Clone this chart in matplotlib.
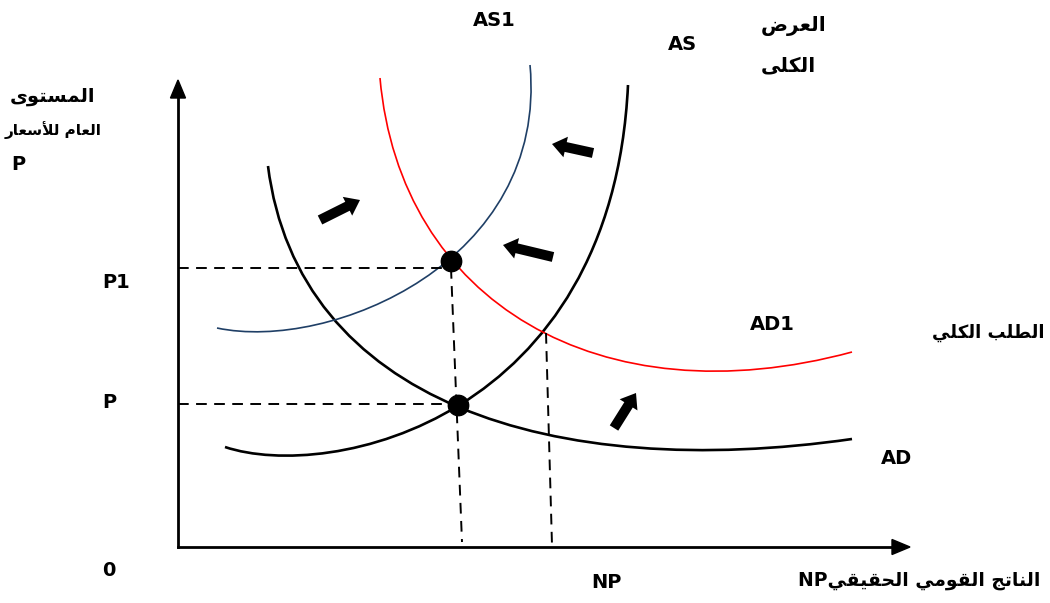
import matplotlib
matplotlib.use("Agg")
import matplotlib.pyplot as plt
from matplotlib.path import Path
from matplotlib.patches import PathPatch, FancyArrow

# ---------------- data (positions on the drawing canvas, px units) ----------------
axis_origin = (178, 547)
axis_y_top = 80
axis_x_right = 910

# cubic Bezier control points of the four curves
as_curve = [(225, 447), (330, 482), (612, 420), (628, 85)]
ad_curve = [(268, 166), (298, 402), (552, 482), (852, 439)]
as1_curve = [(217, 328), (330, 352), (548, 262), (530, 65)]
ad1_curve = [(380, 78), (400, 302), (600, 420), (852, 352)]

eq_x = [451, 458]
eq_y = [261, 405]

h_dash_y = [268, 404]
h_dash_x_end = [451, 458]
v_dash_top = [(451, 268), (546, 333)]
v_dash_bot = [(462, 542), (552, 545)]

shift_arrows = [((320, 220), (360, 200)),
                ((593, 153), (552, 144)),
                ((553, 257), (503, 245)),
                ((614, 428), (636, 393))]

# ---------------- Arabic shaping helper ----------------
FORMS = {
    'ا': (0xFE8D, 0xFE8E, None, None), 'أ': (0xFE83, 0xFE84, None, None),
    'ب': (0xFE8F, 0xFE90, 0xFE91, 0xFE92), 'ت': (0xFE95, 0xFE96, 0xFE97, 0xFE98),
    'ج': (0xFE9D, 0xFE9E, 0xFE9F, 0xFEA0), 'ح': (0xFEA1, 0xFEA2, 0xFEA3, 0xFEA4),
    'ر': (0xFEAD, 0xFEAE, None, None), 'س': (0xFEB1, 0xFEB2, 0xFEB3, 0xFEB4),
    'ض': (0xFEBD, 0xFEBE, 0xFEBF, 0xFEC0), 'ط': (0xFEC1, 0xFEC2, 0xFEC3, 0xFEC4),
    'ع': (0xFEC9, 0xFECA, 0xFECB, 0xFECC), 'ق': (0xFED5, 0xFED6, 0xFED7, 0xFED8),
    'ك': (0xFED9, 0xFEDA, 0xFEDB, 0xFEDC), 'ل': (0xFEDD, 0xFEDE, 0xFEDF, 0xFEE0),
    'م': (0xFEE1, 0xFEE2, 0xFEE3, 0xFEE4), 'ن': (0xFEE5, 0xFEE6, 0xFEE7, 0xFEE8),
    'و': (0xFEED, 0xFEEE, None, None), 'ى': (0xFEEF, 0xFEF0, 0xFBE8, 0xFBE9),
    'ي': (0xFEF1, 0xFEF2, 0xFEF3, 0xFEF4),
}
LAMALEF = {'ا': (0xFEFB, 0xFEFC), 'أ': (0xFEF7, 0xFEF8)}


def dual(c):
    return c in FORMS and FORMS[c][2] is not None


def shape(text):
    out = []
    i = 0
    n = len(text)
    while i < n:
        c = text[i]
        if c not in FORMS:
            out.append(c)
            i += 1
            continue
        prev_join = i > 0 and dual(text[i - 1])
        if c == 'ل' and i + 1 < n and text[i + 1] in LAMALEF:
            iso, fin = LAMALEF[text[i + 1]]
            out.append(chr(fin if prev_join else iso))
            i += 2
            continue
        next_join = dual(c) and i + 1 < n and text[i + 1] in FORMS
        f = FORMS[c]
        if prev_join and next_join:
            g = f[3]
        elif prev_join:
            g = f[1]
        elif next_join:
            g = f[2]
        else:
            g = f[0]
        out.append(chr(g))
        i += 1
    return ''.join(out)[::-1]


# ---------------- figure ----------------
fig = plt.figure(figsize=(10.5, 6.03), dpi=100)
ax = fig.add_axes([0, 0, 1, 1])
ax.set_xlim(0, 1050)
ax.set_ylim(603, 0)
ax.axis('off')

FONT = ['DejaVu Sans']


def bez(pts, color, lw):
    p = Path(pts, [Path.MOVETO, Path.CURVE4, Path.CURVE4, Path.CURVE4])
    ax.add_patch(PathPatch(p, fill=False, edgecolor=color, lw=lw, capstyle='butt'))


# axes with arrows
ox, oy = axis_origin
ax.plot([ox, ox], [oy, axis_y_top + 15], color='black', lw=2.0, solid_capstyle='projecting')
ax.plot([ox, axis_x_right - 15], [oy, oy], color='black', lw=2.0, solid_capstyle='projecting')
ax.add_patch(FancyArrow(ox, axis_y_top + 18, 0, -18, width=0.1, head_width=15,
                        head_length=18, length_includes_head=True, color='black'))
ax.add_patch(FancyArrow(axis_x_right - 18, oy, 18, 0, width=0.1, head_width=15,
                        head_length=18, length_includes_head=True, color='black'))

# dashed guides
for y, xe in zip(h_dash_y, h_dash_x_end):
    ax.plot([ox, xe], [y, y], color='black', lw=1.4, dashes=(5.5, 3.8))
for (x0, y0), (x1, y1) in zip(v_dash_top, v_dash_bot):
    ax.plot([x0, x1], [y0, y1], color='black', lw=1.4, dashes=(5.5, 3.8))

# curves
bez(ad_curve, 'black', 1.9)
bez(as_curve, 'black', 1.9)
bez(as1_curve, '#1f3f66', 1.2)
bez(ad1_curve, '#ff0000', 1.2)

# equilibrium points
ax.scatter(eq_x, eq_y, s=215, color='black', zorder=5)

# shift arrows
for (x0, y0), (x1, y1) in shift_arrows:
    ax.add_patch(FancyArrow(x0, y0, x1 - x0, y1 - y0, width=10, head_width=21,
                            head_length=14, length_includes_head=True,
                            color='black', lw=0))

# labels
kw = dict(family=FONT, fontweight='bold', color='black')
ax.text(494, 21, 'AS1', fontsize=14, ha='center', va='center', **kw)
ax.text(682, 44, 'AS', fontsize=14, ha='center', va='center', **kw)
ax.text(761, 26, shape('العرض'), fontsize=14.5, ha='left', va='center', **kw)
ax.text(761, 66, shape('الكلى'), fontsize=14.5, ha='left', va='center', **kw)
ax.text(95, 96, shape('المستوى'), fontsize=14, ha='right', va='center', **kw)
ax.text(53, 130, shape('العام للأسعار'), fontsize=11, ha='center', va='center', **kw)
ax.text(11, 165, 'P', fontsize=14, ha='left', va='center', **kw)
ax.text(102, 283, 'P1', fontsize=14, ha='left', va='center', **kw)
ax.text(102, 403, 'P', fontsize=14, ha='left', va='center', **kw)
ax.text(102, 571, '0', fontsize=14, ha='left', va='center', **kw)
ax.text(750, 324, 'AD1', fontsize=14, ha='left', va='center', **kw)
ax.text(1045, 333, shape('الطلب الكلي'), fontsize=13, ha='right', va='center', **kw)
ax.text(881, 458, 'AD', fontsize=14, ha='left', va='center', **kw)
ax.text(606, 583, 'NP', fontsize=14, ha='center', va='center', **kw)
ax.text(1040, 581, 'NP' + shape('الناتج القومي الحقيقي'), fontsize=13.5, ha='right',
        va='center', **kw)

fig.savefig('out.png', dpi=100)
